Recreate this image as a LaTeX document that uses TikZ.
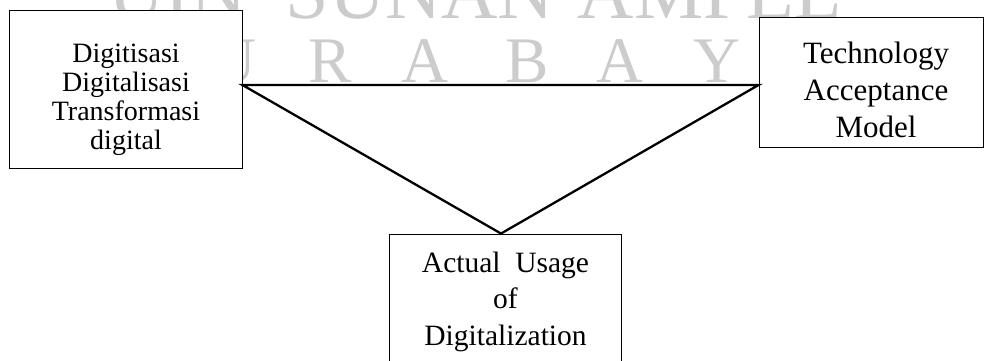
\documentclass[tikz,border=0pt]{standalone}
\usepackage{fontspec}
\setmainfont{Liberation Serif}
\begin{document}
\begin{tikzpicture}[x=1pt,y=-1pt,
  box/.style={draw=black, line width=0.9pt, fill=white, inner sep=0pt},
  txt/.style={anchor=base, align=center, inner sep=0pt},
  wm/.style={text=black!20, anchor=base, inner sep=0pt, font=\fontsize{65}{65}\selectfont},
  wmtop/.style={text=black!20, anchor=base, inner sep=0pt, font=\fontsize{78}{78}\selectfont},
  tri/.style={draw=black, line width=2.3pt, line join=miter}]
\useasboundingbox (0,0) rectangle (984,360);
\clip (0,0) rectangle (984,360);
% watermark
\node[wmtop, anchor=base east] (wu) at (247,18) {UIN};
\node[wmtop] (ws) at (420,18) {SUNAN};
\node[wmtop] (wa) at (710,18) {AMPEL};
\foreach \l/\xx [count=\i] in {U/233,R/330,A/425,B/527,A/620,Y/717}
  \node[wm] (w\i) at (\xx,82) {\l};
% boxes
\node[box, minimum width=233pt, minimum height=158pt] (L) at (125.5,89) {};
\node[box, minimum width=224.5pt, minimum height=130pt] (R) at (871.25,82) {};
\node[box, minimum width=232pt, minimum height=146pt] (B) at (505,307) {};
% texts (anchored at the baseline of the last line)
\node[txt, font=\fontsize{28}{29}\selectfont] (Lt) at (126,149)
  {Digitisasi\\Digitalisasi\\Transformasi\\digital};
\node[txt, font=\fontsize{31}{37}\selectfont] (Rt) at (876,137)
  {Technology\\Acceptance\\Model};
\node[txt, font=\fontsize{29.5}{36.5}\selectfont] (Bt) at (505.5,345)
  {Actual~~Usage\\of\\Digitalization};
% triangle
\coordinate (pl) at ([yshift=4pt]L.east);
\coordinate (pr) at ([yshift=-3pt]R.west);
\coordinate (pb) at ([xshift=-4pt]B.north);
\draw[tri] (pl) -- (pr) -- (pb) -- cycle;
\end{tikzpicture}
\end{document}
